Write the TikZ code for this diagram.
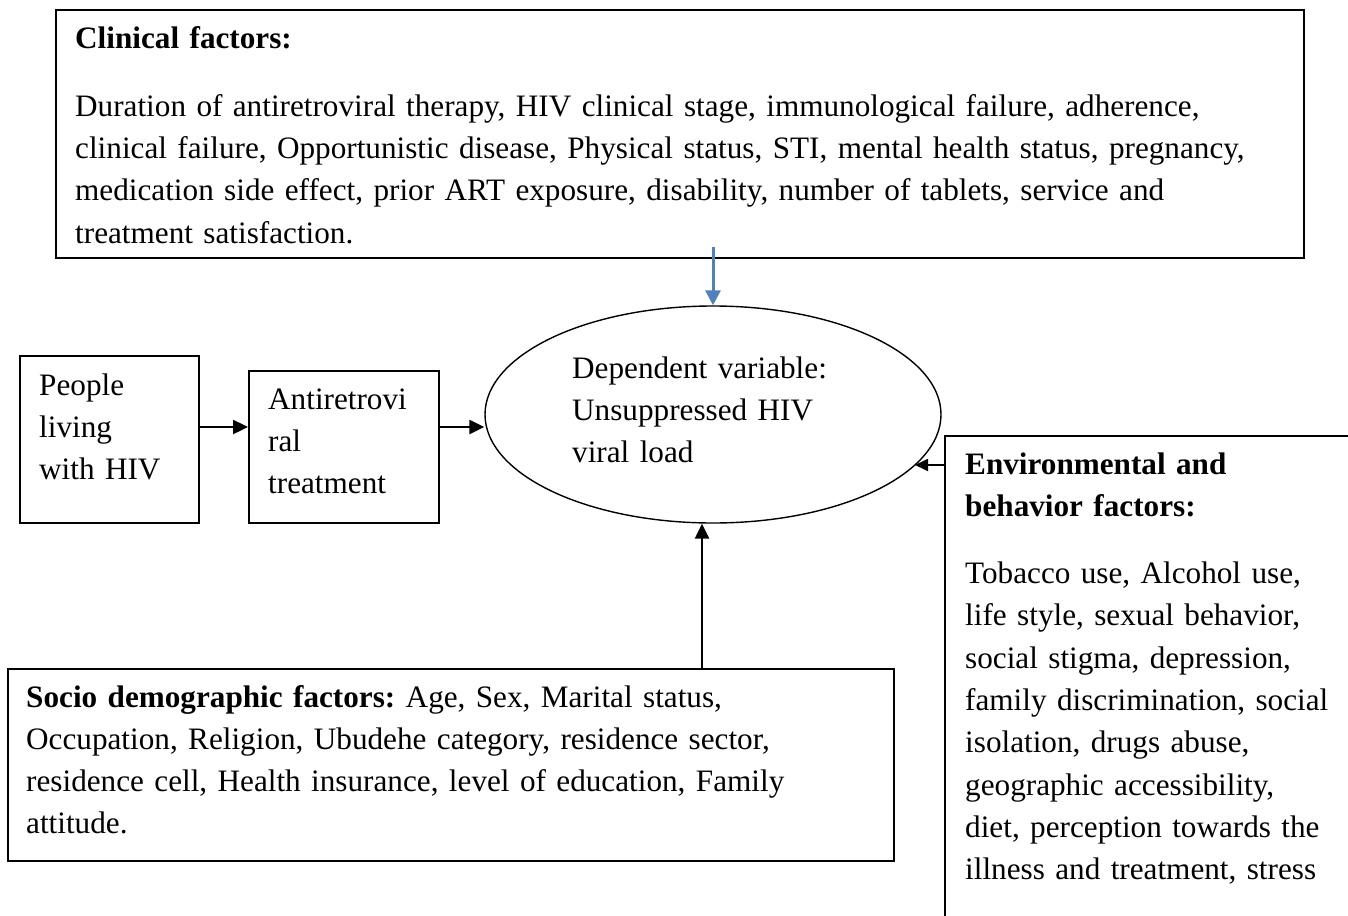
\documentclass[tikz,border=0pt]{standalone}
\usepackage{fontspec}
\setmainfont{Liberation Serif}
\usetikzlibrary{shapes.geometric,arrows.meta}
\definecolor{arrowblue}{HTML}{4F81BD}
\begin{document}
\frenchspacing
\begin{tikzpicture}[x=1pt,y=-1pt,
  box/.style={draw,line width=1.6pt,inner sep=0pt,anchor=north west},
  txt/.style={inner sep=0pt,anchor=base west,text width=#1,align=left,font=\fontsize{31.2}{42.3}\selectfont\frenchspacing},
  arr/.style={line width=2.4pt,-{Triangle[length=15pt,width=14pt]}},
  ]
\useasboundingbox (0,0) rectangle (1348,915);
\fill[white] (0,0) rectangle (1348,915);
% boxes
\node[box,minimum width=1248pt,minimum height=248pt] (clin) at (55,9) {};
\node[box,minimum width=179pt,minimum height=167pt] (ppl) at (19,355) {};
\node[box,minimum width=190pt,minimum height=152pt] (art) at (248,370) {};
\node[box,minimum width=886pt,minimum height=192pt] (soc) at (7,668) {};
\node[box,minimum width=430pt,minimum height=500pt] (env) at (944,435) {};
\node[draw,ellipse,line width=1.4pt,minimum width=456pt,minimum height=217pt,inner sep=0pt] (dv) at (713,414.5) {};
% texts
\node[txt=1240pt] (clintxt) at (75,49) {\textbf{Clinical factors:}\\[25pt]
Duration of antiretroviral therapy, HIV clinical stage, immunological failure, adherence,\\
clinical failure, Opportunistic disease, Physical status, STI, mental health status, pregnancy,\\
medication side effect, prior ART exposure, disability, number of tablets, service and\\
treatment satisfaction.};
\node[txt=170pt] (ppltxt) at (39,395) {People\\ living\\ with HIV};
\node[txt=180pt] (arttxt) at (268,409) {Antiretrovi\\ ral\\ treatment};
\node[txt=330pt] (dvtxt) at (572,378) {Dependent variable:\\ Unsuppressed HIV\\ viral load};
\node[txt=880pt] (soctxt) at (26,707) {\textbf{Socio demographic factors:} Age, Sex, Marital status,\\
Occupation, Religion, Ubudehe category, residence sector,\\
residence cell, Health insurance, level of education, Family\\
attitude.};
\node[txt=400pt] (envtxt) at (965,474) {\textbf{Environmental and}\\
\textbf{behavior factors:}\\[25pt]
Tobacco use, Alcohol use,\\
life style, sexual behavior,\\
social stigma, depression,\\
family discrimination, social\\
isolation, drugs abuse,\\
geographic accessibility,\\
diet, perception towards the\\
illness and treatment, stress};
% connectors
\coordinate (bluestart) at (713,247);
\coordinate (envtip) at (915,465);
\draw[arr] (ppl.east |- 0,427) -- (art.west |- 0,427);
\draw[arr] (art.east |- 0,427) -- (dv.west |- 0,427);
\draw[line width=3pt,arrowblue,-{Triangle[length=15pt,width=15pt]}] (bluestart) -- (dv.north);
\draw[arr] (soc.north -| 702,0) -- (dv.south -| 702,0);
\draw[line width=1.8pt,-{Triangle[length=13pt,width=12pt]}] (env.west |- 0,465) -- (envtip);
\end{tikzpicture}
\end{document}
